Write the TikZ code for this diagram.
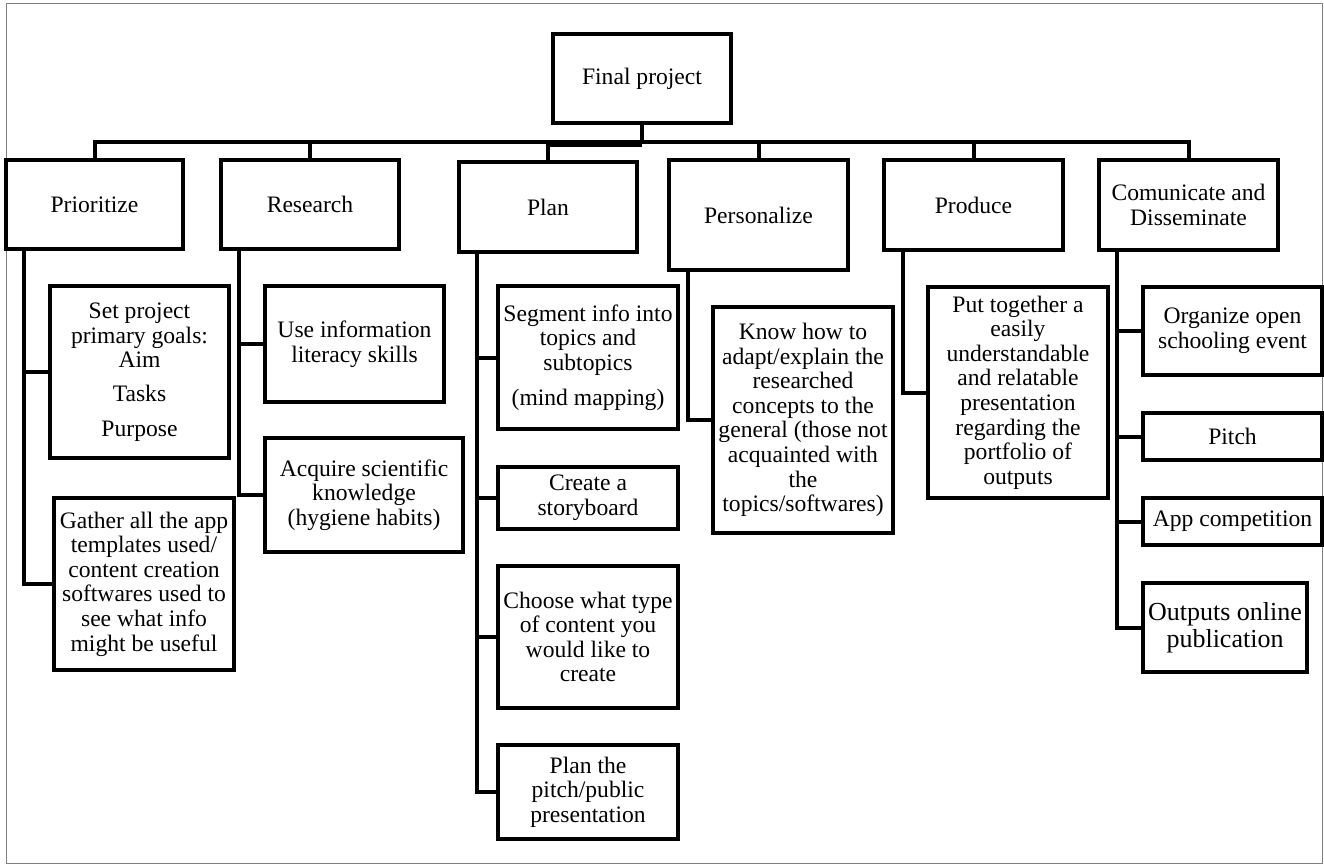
\documentclass[tikz,border=0pt]{standalone}
\usepackage{fontspec}
\setmainfont{Liberation Serif}

% box with its text: name, left, top, right, bottom, text
\newcommand{\treebox}[6]{%
  \node[box, minimum width={#4-#2}, minimum height={#5-#3}] (#1) at ({(#2+#4)/2},{(#3+#5)/2}) {};
  \node[txt] (#1-text) at (#1.center) {#6};}

\begin{document}
\begin{tikzpicture}[x=1pt, y=-1pt,
  box/.style={draw, rectangle, line width=4pt, inner sep=0pt, outer sep=0pt},
  txt/.style={align=center, inner sep=0pt, font=\fontsize{23.6}{24.6}\selectfont},
  bigtxt/.style={txt, font=\fontsize{26}{27.5}\selectfont},
  link/.style={line width=4pt, line join=miter}]
\useasboundingbox (0,0) rectangle (1324,865);
\draw[gray, line width=1pt] (6,3) rectangle (1322,863);

% root and first level
\treebox{final}{553}{34}{731}{123}{Final project}
\treebox{prio}{6}{160}{183}{249}{Prioritize}
\treebox{research}{221}{160}{399}{249}{Research}
\treebox{plan}{459}{162}{637}{252}{Plan}
\treebox{person}{669}{160}{848}{270}{Personalize}
\treebox{produce}{884}{160}{1063}{250}{Produce}
\treebox{comm}{1099}{160}{1278}{250}{Comunicate and\\Disseminate}

% second level
\treebox{goals}{50}{286}{229}{458}{Set project\\primary goals:\\Aim\\[9.5pt]Tasks\\[9.5pt]Purpose}
\treebox{gather}{54}{498}{234}{670}{Gather all the app\\templates used/\\content creation\\softwares used to\\see what info\\might be useful}
\treebox{useinfo}{265}{286}{444}{402}{Use information\\literacy skills}
\treebox{acquire}{265}{438}{463}{552}{Acquire scientific\\knowledge\\(hygiene habits)}
\treebox{segment}{498}{286}{678}{429}{Segment info into\\topics and\\subtopics\\[10pt](mind mapping)}
\treebox{story}{498}{467}{678}{529}{Create a\\storyboard}
\treebox{choose}{498}{566}{678}{708}{Choose what type\\of content you\\would like to\\create}
\treebox{pitchplan}{498}{745}{678}{839}{Plan the\\pitch/public\\presentation}
\treebox{knowhow}{713}{307}{893}{533}{Know how to\\adapt/explain the\\researched\\concepts to the\\general (those not\\acquainted with\\the\\topics/softwares)}
\treebox{together}{928}{287}{1108}{498}{Put together a\\easily\\understandable\\and relatable\\presentation\\regarding the\\portfolio of\\outputs}
\treebox{organize}{1143}{287}{1322}{375}{Organize open\\schooling event}
\treebox{pitch}{1143}{413}{1322}{460}{Pitch}
\treebox{appcomp}{1143}{498}{1322}{545}{App competition}
\node[box, minimum width=164, minimum height=89] (outputs) at (1225,627.5) {};
\node[bigtxt] (outputs-text) at (outputs.center) {Outputs online\\publication};

% bus from the root to the first level
\coordinate (bus) at (642,142);
\draw[link] (final.south) -- (bus);
\draw[link] (prio.north) -- (prio.north |- bus) -- (comm.north |- bus) -- (comm.north);
\draw[link] ([yshift=-2.5pt]plan.north |- bus) -- ([yshift=-2.5pt]bus);
\foreach \n in {research, plan, person, produce}
  \draw[link] (\n.north) -- (\n.north |- bus);

% trunks down to the second level
\foreach \p/\c in {prio/goals, prio/gather, research/useinfo, research/acquire,
                   plan/segment, plan/story, plan/choose, plan/pitchplan,
                   comm/organize, comm/pitch, comm/appcomp, comm/outputs}
  \draw[link] ([xshift=18pt]\p.south west) |- (\c.west);
\draw[link] ([xshift=19pt]person.south west) |- (knowhow.west);
\draw[link] ([xshift=19pt]produce.south west) |- (together.west);
\end{tikzpicture}
\end{document}
